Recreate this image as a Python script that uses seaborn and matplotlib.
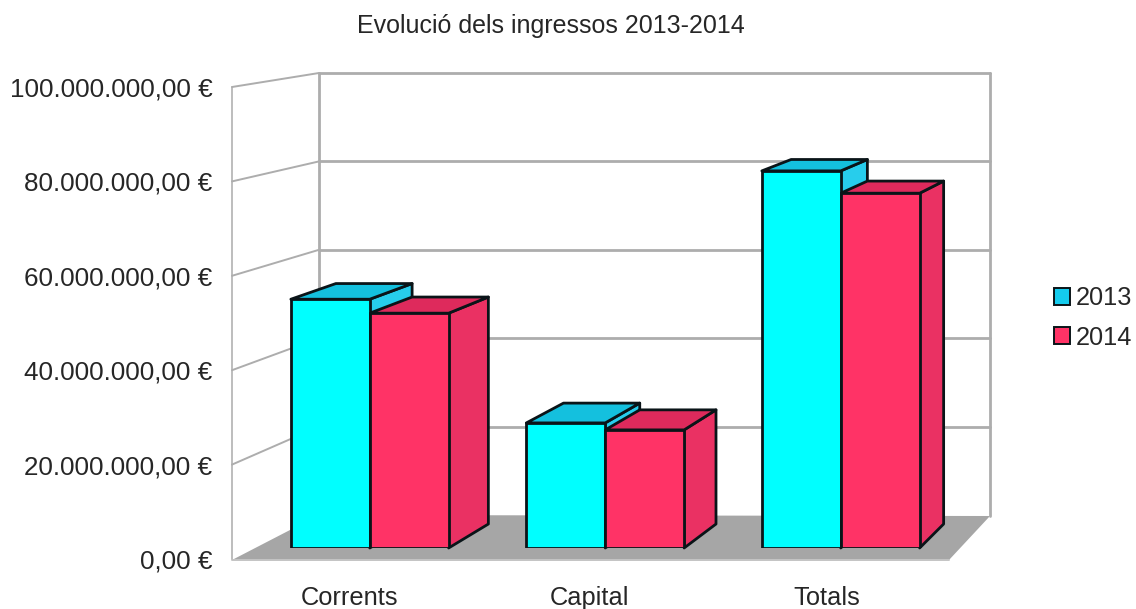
import matplotlib
matplotlib.use('Agg')
import matplotlib.pyplot as plt
import pandas as pd
import seaborn as sns
from matplotlib.patches import Patch, Polygon
from matplotlib.ticker import FuncFormatter

categories = ['Corrents', 'Capital', 'Totals']
years = ['2013', '2014']
values_2013 = [53500000, 26900000, 81100000]
values_2014 = [50500000, 25400000, 76300000]
y_ticks = [0, 20000000, 40000000, 60000000, 80000000, 100000000]

W, H = 1136, 609
EDGE = '#0a1418'
GRID = '#adadad'
face_colors = {'2013': '#00ffff', '2014': '#ff3366'}
top_colors = {'2013': '#14c0de', '2014': '#de2a5c'}
side_colors = {'2013': '#27cdec', '2014': '#ea3163'}
legend_colors = {'2013': '#14ccee', '2014': '#ff3366'}

# where the bar depth lines run to, in image pixels
VX, VY, SCALE = 1638, -170, 0.9666

df = pd.DataFrame({
    'categoria': categories * 2,
    'any': [years[0]] * 3 + [years[1]] * 3,
    'ingressos': values_2013 + values_2014,
})

sns.set_theme(style='white')
plt.rcParams['font.family'] = ['Liberation Sans', 'DejaVu Sans']
TEXT = '#262626'


def box(left, top, right, bottom):
    # image pixels (y down) to figure fraction
    return [left / W, 1 - bottom / H, (right - left) / W, (bottom - top) / H]


def back(x, y):
    return VX + SCALE * (x - VX), VY + SCALE * (y - VY)


fig = plt.figure(figsize=(W / 100, H / 100), dpi=100)

# background in image pixels: walls, floor, bar sides
bg = fig.add_axes([0, 0, 1, 1], zorder=0)
bg.set_xlim(0, W)
bg.set_ylim(H, 0)
bg.axis('off')

bg.add_patch(Polygon([(232, 560), (949, 560), (990, 516), (319, 515)], closed=True,
                     facecolor='#a6a6a6', edgecolor='none', zorder=1))
bg.plot([232, 949], [560, 560], color='#c4c4c4', lw=1.4, zorder=1.5)
bg.plot([232, 232], [87, 559], color='#bdbdbd', lw=1.4, zorder=1.5)
bg.plot([319, 319], [73, 515], color=GRID, lw=2, zorder=1.5)
bg.plot([990, 990], [73, 516], color=GRID, lw=2, zorder=1.5)
for v in y_ticks[1:]:
    front_y = 559 - v / 1e8 * 472
    back_y = 515 - v / 1e8 * 442
    bg.plot([232, 319], [front_y, back_y], color=GRID, lw=1.4, zorder=1.5)
    bg.plot([319, 990], [back_y, back_y], color=GRID, lw=2, zorder=1.5)

# bars, front faces
ax = fig.add_axes(box(252, 83, 958.5, 548), zorder=2)
ax.patch.set_alpha(0)
sns.barplot(data=df, x='categoria', y='ingressos', hue='any', hue_order=years,
            palette=face_colors, order=categories, width=0.67, gap=0, saturation=1,
            edgecolor=EDGE, linewidth=2, legend=False, ax=ax)
ax.set_xlim(-0.5, 2.5)
ax.set_ylim(0, 1e8)
ax.axis('off')
fig.canvas.draw()

# depth faces worked out from the bars themselves
to_px = ax.transData + bg.transData.inverted()
for i, container in enumerate(ax.containers):
    year = years[i]
    for bar in container:
        x0, y0 = to_px.transform((bar.get_x(), 0))
        x1, y1 = to_px.transform((bar.get_x() + bar.get_width(), bar.get_height()))
        top = [(x0, y1), (x1, y1), back(x1, y1), back(x0, y1)]
        side = [(x1, y1), (x1, y0), back(x1, y0), back(x1, y1)]
        bg.add_patch(Polygon(side, closed=True, facecolor=side_colors[year], edgecolor=EDGE,
                             lw=2, joinstyle='round', zorder=3 + i))
        bg.add_patch(Polygon(top, closed=True, facecolor=top_colors[year], edgecolor=EDGE,
                             lw=2, joinstyle='round', zorder=3 + i))

# front plane of the chart holds the tick labels
front = fig.add_axes(box(232, 87, 990, 559), zorder=3)
front.patch.set_alpha(0)
front.set_xlim(232, 990)
front.set_ylim(0, 1e8)
sns.despine(ax=front, left=True, bottom=True)
front.set_yticks(y_ticks)
front.yaxis.set_major_formatter(FuncFormatter(
    lambda v, pos: f'{v:,.2f} €'.replace(',', 'X').replace('.', ',').replace('X', '.')))
front.set_xticks([350, 589, 827])
front.set_xticklabels(categories)
front.tick_params(axis='y', length=0, pad=14, labelsize=18.7, labelcolor=TEXT)
front.tick_params(axis='x', length=0, pad=19.5, labelsize=18.3, labelcolor=TEXT)
front.grid(False)
front.set_xlabel('')
front.set_ylabel('')

fig.text(551 / W, 1 - 26.5 / H, 'Evolució dels ingressos 2013-2014', ha='center', va='center',
         fontsize=18, color=TEXT)

handles = [Patch(facecolor=legend_colors[y], edgecolor=EDGE, lw=1.4, label=y) for y in years]
fig.legend(handles=handles, loc='center left', bbox_to_anchor=(1054 / W, 1 - 318 / H),
           frameon=False, fontsize=18.3, handlelength=0.62, handleheight=0.62,
           handletextpad=0.25, labelspacing=0.6, labelcolor=TEXT,
           borderpad=0, borderaxespad=0)

fig.savefig('out.png', dpi=100)
